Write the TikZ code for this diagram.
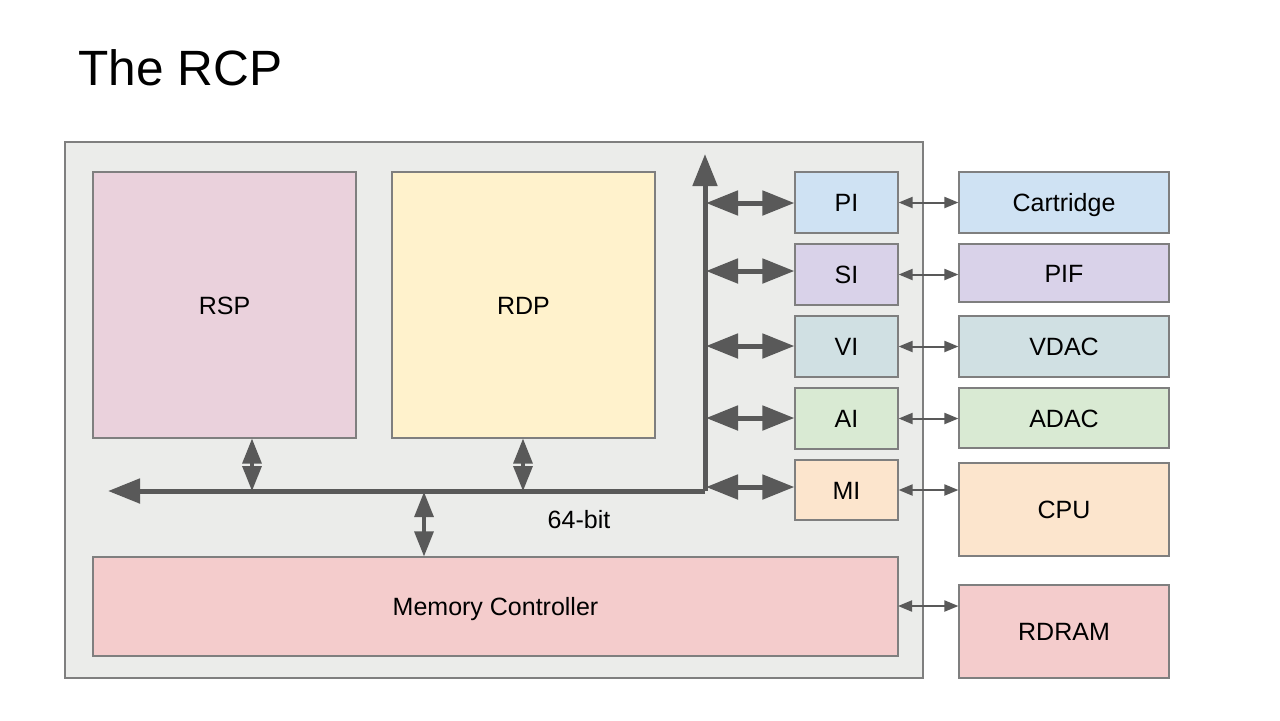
\documentclass[tikz,border=0pt]{standalone}
\usepackage{fontspec}
\setmainfont{Liberation Sans}
\usetikzlibrary{arrows.meta}
\definecolor{bg}{HTML}{EBECEA}
\definecolor{edge}{HTML}{7F7F7F}
\definecolor{busc}{HTML}{595959}
\definecolor{crsp}{HTML}{EAD1DC}
\definecolor{crdp}{HTML}{FFF2CC}
\definecolor{cpi}{HTML}{CFE2F3}
\definecolor{csi}{HTML}{D9D2E9}
\definecolor{cvi}{HTML}{D0E0E3}
\definecolor{cai}{HTML}{D9EAD3}
\definecolor{cmi}{HTML}{FCE5CD}
\definecolor{cmem}{HTML}{F4CCCC}
\tikzset{
  blk/.style={draw=edge, line width=0.6pt, inner sep=0pt, font=\fontsize{12.5}{14}\selectfont, text height=0.9em, text depth=0pt},
  bus/.style={draw=busc, line width=2.5pt},
  bigarr/.style={busc, line width=2.5pt, {Triangle[length=16pt,width=12pt]}-{Triangle[length=16pt,width=12pt]}},
  midarr/.style={busc, line width=1.6pt, {Triangle[length=12.5pt,width=9.5pt]}-{Triangle[length=12.5pt,width=9.5pt]}},
  thinarr/.style={busc, line width=1pt, {Triangle[length=7pt,width=5.5pt]}-{Triangle[length=7pt,width=5.5pt]}},
}
\begin{document}
\begin{tikzpicture}[x=0.5pt,y=-0.5pt]
\useasboundingbox[fill=white] (0,0) rectangle (1280,720);
\node[anchor=base west, font=\fontsize{24.8}{30}\selectfont, inner sep=0pt] (title) at (78,85) {The RCP};
\path[fill=bg, draw=edge, line width=0.6pt] (65,142) rectangle (923,678);
% inner blocks
\node[blk, fill=crsp, minimum width=131.5pt, minimum height=133pt] (rsp) at (224.5,305) {RSP};
\node[blk, fill=crdp, minimum width=131.5pt, minimum height=133pt] (rdp) at (523.5,305) {RDP};
\node[blk, fill=cmem, minimum width=402.5pt, minimum height=49.5pt] (mem) at (495.5,606.5) {Memory Controller};
% interfaces
\node[blk, fill=cpi, minimum width=51.5pt, minimum height=30.5pt] (pi) at (846.5,202.5) {PI};
\node[blk, fill=csi, minimum width=51.5pt, minimum height=30.5pt] (si) at (846.5,274.5) {SI};
\node[blk, fill=cvi, minimum width=51.5pt, minimum height=30.5pt] (vi) at (846.5,346.5) {VI};
\node[blk, fill=cai, minimum width=51.5pt, minimum height=30.5pt] (ai) at (846.5,418.5) {AI};
\node[blk, fill=cmi, minimum width=51.5pt, minimum height=30pt] (mi) at (846.5,490) {MI};
% external
\node[blk, fill=cpi, minimum width=105pt, minimum height=30.5pt] (cart) at (1064,202.5) {Cartridge};
\node[blk, fill=csi, minimum width=105pt, minimum height=29pt] (pif) at (1064,273) {PIF};
\node[blk, fill=cvi, minimum width=105pt, minimum height=30.5pt] (vdac) at (1064,346.5) {VDAC};
\node[blk, fill=cai, minimum width=105pt, minimum height=30pt] (adac) at (1064,418) {ADAC};
\node[blk, fill=cmi, minimum width=105pt, minimum height=46.5pt] (cpu) at (1064,509.5) {CPU};
\node[blk, fill=cmem, minimum width=105pt, minimum height=46.5pt] (rdram) at (1064,631.5) {RDRAM};
% bus
\coordinate (corner) at (705,491);
\coordinate (busl) at (108,491);
\coordinate (bust) at (705,154);
\draw[bus, -{Triangle[length=16pt,width=12pt]}] (corner) -- (busl);
\draw[bus, -{Triangle[length=16pt,width=12pt]}] (corner) -- (bust);
\node[font=\fontsize{12.5}{14}\selectfont, text height=0.9em, text depth=0pt, anchor=center] (lbl) at (579,519) {64-bit};
% bus to interfaces
\foreach \n/\y in {pi/203, si/271, vi/346, ai/418, mi/487} {
  \coordinate (b\n) at (706,\y);
  \draw[bigarr] (b\n) -- (\n.west |- b\n);
}
% vertical small arrows
\coordinate (brsp) at (252,491);
\coordinate (brdp) at (523,491);
\coordinate (bmem) at (424,492);
\draw[midarr] (rsp.south -| brsp) -- (brsp);
\draw[midarr] (rdp.south -| brdp) -- (brdp);
\draw[midarr] (bmem) -- (mem.north -| bmem);
% thin arrows
\draw[thinarr] (pi.east) -- (cart.west |- pi.east);
\draw[thinarr] (si.east) -- (pif.west |- si.east);
\draw[thinarr] (vi.east) -- (vdac.west |- vi.east);
\draw[thinarr] (ai.east) -- (adac.west |- ai.east);
\draw[thinarr] (mi.east) -- (cpu.west |- mi.east);
\coordinate (mr) at (898,606);
\draw[thinarr] (mr) -- (rdram.west |- mr);
\end{tikzpicture}
\end{document}
